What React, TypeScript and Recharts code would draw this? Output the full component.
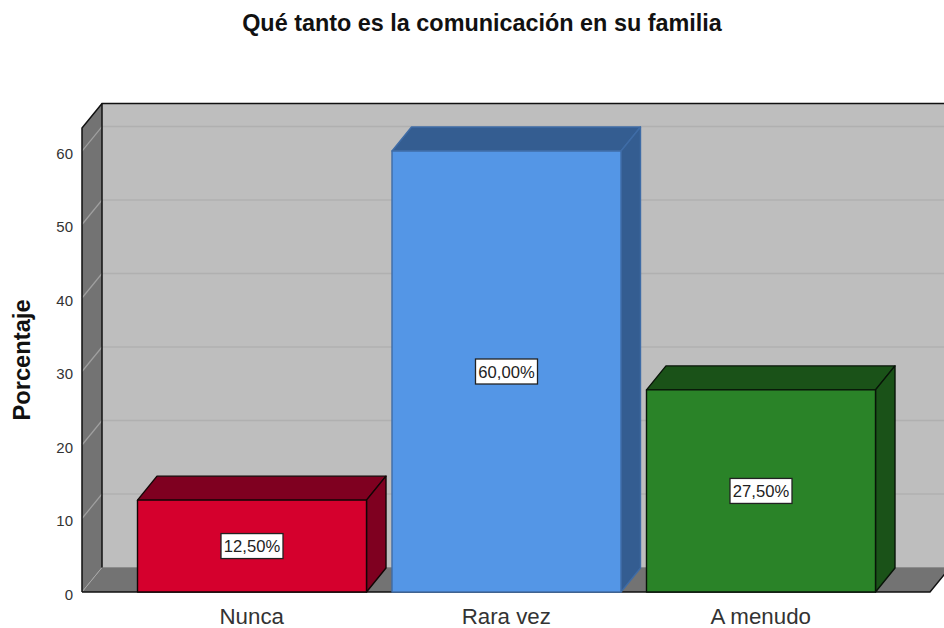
import React from 'react';
import { BarChart, Bar, XAxis, YAxis, LabelList, ReferenceArea } from 'recharts';

const categories = ['Nunca', 'Rara vez', 'A menudo'];
const percentages = [12.5, 60, 27.5];
const yTicks = [0, 10, 20, 30, 40, 50, 60];
const faceColors = ['#D5002D', '#5496E6', '#2A8328'];
const sideColors = ['#7F0020', '#345D91', '#1A5218'];
const strokeColors = ['#120505', '#3F6CA6', '#081408'];

const rows = categories.map((name, i) => ({ name, value: percentages[i] }));
const DX = 20;
const DY = 24.5;
const BAR_DX = 19.5;
const BAR_DY = 24;
const PAD_L = 42.5;
const PAD_R = 42;
const FONT = '"Liberation Sans", Arial, sans-serif';

const Walls = (p: any) => {
  const x = p.x - PAD_L;
  const { y, height } = p;
  const width = p.width + PAD_L + PAD_R;
  const r = x + width, b = y + height;
  return (
    <g>
      <rect x={x + DX} y={y - DY} width={width} height={height} fill="#BEBEBE" />
      <polygon points={`${x},${y} ${x + DX},${y - DY} ${x + DX},${b - DY} ${x},${b}`} fill="#737373" />
      <polygon points={`${x},${b} ${x + DX},${b - DY} ${r + DX},${b - DY} ${r},${b}`} fill="#737373" />
      <line x1={x + DX} y1={b - DY} x2={r + DX} y2={b - DY} stroke="#8c8c8c" strokeWidth={1} />
    </g>
  );
};

const Edges = (p: any) => {
  const x = p.x - PAD_L;
  const { y, height } = p;
  const width = p.width + PAD_L + PAD_R;
  const r = x + width, b = y + height;
  return (
    <g fill="none" stroke="#111" strokeWidth={1.5}>
      <polyline points={`${x},${b} ${x},${y} ${x + DX},${y - DY} ${r + DX},${y - DY}`} />
      <line x1={x + DX} y1={y - DY} x2={x + DX} y2={b - DY} />
      <polyline points={`${x},${b} ${r},${b} ${r + DX},${b - DY}`} />
    </g>
  );
};

const GridLine = (p: any) => {
  const x = p.x - PAD_L;
  const y = p.y;
  const r = x + p.width + PAD_L + PAD_R;
  if (y > 585) {
    return <line x1={x} y1={y} x2={x + DX} y2={y - DY} stroke="#a8a8a8" strokeWidth={1} />;
  }
  return (
    <g>
      <line x1={x} y1={y} x2={x + DX} y2={y - DY} stroke="#a0a0a0" strokeWidth={1.2} />
      <line x1={x + DX} y1={y - DY} x2={r + DX} y2={y - DY} stroke="#b0b0b0" strokeWidth={1.5} />
    </g>
  );
};

const Bar3D = (p: any) => {
  const { x, y, width, height, index } = p;
  const r = x + width, b = y + height;
  const stroke = strokeColors[index];
  return (
    <g stroke={stroke} strokeWidth={1.4} strokeLinejoin="round">
      <polygon points={`${x},${y} ${x + BAR_DX},${y - BAR_DY} ${r + BAR_DX},${y - BAR_DY} ${r},${y}`} fill={sideColors[index]} />
      <polygon points={`${r},${y} ${r + BAR_DX},${y - BAR_DY} ${r + BAR_DX},${b - BAR_DY} ${r},${b}`} fill={sideColors[index]} />
      <rect x={x} y={y} width={width} height={height} fill={faceColors[index]} />
    </g>
  );
};

const ValueTag = (p: any) => {
  const { x, y, width, height, value } = p;
  const cx = x + width / 2, cy = y + height / 2;
  return (
    <g>
      <rect x={cx - 31} y={cy - 12.5} width={62} height={25} fill="#fff" stroke="#222" strokeWidth={1.3} />
      <text x={cx} y={cy + 0.5} textAnchor="middle" dominantBaseline="central" fontFamily={FONT} fontSize={16.6} fill="#222">
        {`${Number(value).toFixed(2).replace('.', ',')}%`}
      </text>
    </g>
  );
};

export default function App() {
  return (
    <div style={{ position: 'fixed', left: 0, top: 0, width: 944, height: 628, overflow: 'hidden', background: '#fff' }}>
      <div
        style={{
          position: 'absolute', left: 182, top: 8, width: 600, textAlign: 'center',
          fontFamily: FONT, fontWeight: 700, fontSize: 23.4, lineHeight: '30px', color: '#111', whiteSpace: 'nowrap',
        }}
      >
        Qué tanto es la comunicación en su familia
      </div>
      <BarChart
        width={944}
        height={628}
        data={rows}
        margin={{ top: 128, right: 14, bottom: 0, left: 0 }}
        barCategoryGap={0}
        style={{ position: 'absolute', left: 0, top: 0, background: 'transparent' }}
      >
        <ReferenceArea y1={0} y2={63.13} shape={Walls} ifOverflow="visible" />
        {yTicks.map((t) => (
          <ReferenceArea key={t} y1={t} y2={t} shape={GridLine} ifOverflow="visible" />
        ))}
        <XAxis
          dataKey="name"
          padding={{ left: PAD_L, right: PAD_R }}
          axisLine={false}
          tickLine={false}
          height={36}
          interval={0}
          tickMargin={10}
          tick={{ fontFamily: FONT, fontSize: 22.3, fill: '#333' }}
        />
        <YAxis
          type="number"
          domain={[0, 63.13]}
          ticks={yTicks}
          width={82}
          axisLine={false}
          tickLine={false}
          tickSize={0}
          tickMargin={9}
          tick={{ fontFamily: FONT, fontSize: 15, fill: '#333', dy: 2.5 }}
          label={{
            value: 'Porcentaje', angle: -90, position: 'insideLeft', offset: 22,
            style: { fontFamily: FONT, fontWeight: 700, fontSize: 23.7, fill: '#111', textAnchor: 'middle' },
          }}
        />
        <ReferenceArea y1={0} y2={63.13} shape={Edges} ifOverflow="visible" />
        <Bar dataKey="value" barSize={229} shape={Bar3D} isAnimationActive={false}>
          <LabelList dataKey="value" content={ValueTag} />
        </Bar>
      </BarChart>
    </div>
  );
}
